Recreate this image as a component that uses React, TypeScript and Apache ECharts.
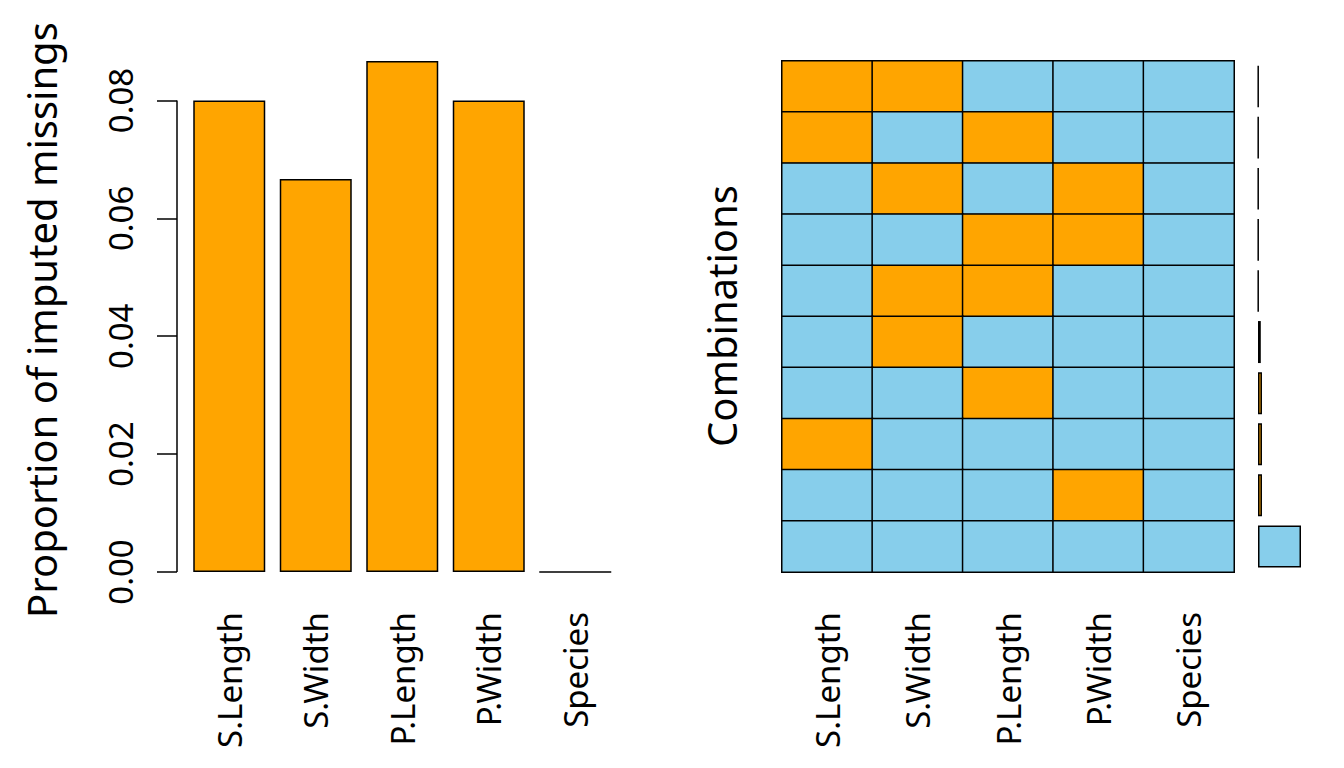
import React, { useEffect, useRef } from "react";
import * as echarts from "echarts";

const variables = ["S.Length", "S.Width", "P.Length", "P.Width", "Species"];
const missingProportion = [0.08, 0.0667, 0.0867, 0.08, 0];
const yTicks = [0, 0.02, 0.04, 0.06, 0.08];

// combination patterns, top row first (1 = imputed/missing)
const combinations = [
  [1, 1, 0, 0, 0],
  [1, 0, 1, 0, 0],
  [0, 1, 0, 1, 0],
  [0, 0, 1, 1, 0],
  [0, 1, 1, 0, 0],
  [0, 1, 0, 0, 0],
  [0, 0, 1, 0, 0],
  [1, 0, 0, 0, 0],
  [0, 0, 0, 1, 0],
  [0, 0, 0, 0, 0],
];
const combinationCounts = [1, 1, 1, 1, 1, 7, 10, 10, 10, 108];

const ORANGE = "#FFA500";
const SKY = "#87CEEB";
const FONT = "Noto Sans";

export default function App() {
  const ref = useRef<HTMLDivElement>(null);

  useEffect(() => {
    if (!ref.current) return;
    const chart = echarts.init(ref.current, undefined, { renderer: "svg" });
    const rowNames = combinations.map((_, i) => "r" + i);
    const heatData: number[][] = [];
    combinations.forEach((row, r) => row.forEach((v, c) => heatData.push([c, r, v])));

    const leftGridLeft = 186;
    const yAxisOffset = 9;

    const labelStyle = {
      fontSize: 33,
      color: "#000",
      fontFamily: FONT,
    };

    chart.setOption({
      animation: false,
      grid: [
        { left: leftGridLeft, right: 1344 - 618.5, top: 61, bottom: 196 },
        { left: 782, right: 1344 - 1234, top: 61, bottom: 196 },
        { left: 1258, right: 43, top: 61, bottom: 196 },
      ],
      xAxis: [
        {
          type: "category",
          gridIndex: 0,
          data: variables,
          axisLine: { show: false },
          axisTick: { show: false },
          axisLabel: { ...labelStyle, rotate: 90, margin: 40, interval: 0 },
        },
        {
          type: "category",
          gridIndex: 1,
          data: variables,
          axisLine: { show: false },
          axisTick: { show: false },
          axisLabel: { ...labelStyle, rotate: 90, margin: 40, interval: 0 },
        },
        {
          type: "value",
          gridIndex: 2,
          min: 0,
          max: "dataMax",
          show: false,
        },
      ],
      yAxis: [
        {
          type: "value",
          gridIndex: 0,
          min: 0,
          max: 0.0867,
          offset: yAxisOffset,
          splitLine: { show: false },
          axisLine: { show: false },
          axisTick: {
            show: true,
            length: 20,
            lineStyle: { color: "#000", width: 1.5 },
            customValues: yTicks,
          },
          axisLabel: {
            ...labelStyle,
            rotate: 90,
            margin: 40,
            customValues: yTicks,
            formatter: (v: number) => v.toFixed(2),
          },
        },
        {
          type: "category",
          gridIndex: 1,
          data: rowNames,
          inverse: true,
          show: false,
        },
        {
          type: "category",
          gridIndex: 2,
          data: rowNames,
          inverse: true,
          show: false,
        },
      ],
      visualMap: {
        type: "piecewise",
        show: false,
        seriesIndex: 1,
        dimension: 2,
        pieces: [
          { value: 0, color: SKY },
          { value: 1, color: ORANGE },
        ],
      },
      series: [
        {
          type: "bar",
          xAxisIndex: 0,
          yAxisIndex: 0,
          data: missingProportion,
          barWidth: 72,
          itemStyle: { color: ORANGE, borderColor: "#000", borderWidth: 1.5 },
        },
        {
          type: "heatmap",
          xAxisIndex: 1,
          yAxisIndex: 1,
          data: heatData,
          itemStyle: { borderColor: "#000", borderWidth: 1.5 },
        },
        {
          type: "bar",
          xAxisIndex: 2,
          yAxisIndex: 2,
          barWidth: 42,
          data: combinationCounts.map((c, i) => ({
            value: c,
            itemStyle: {
              color: combinations[i].some((v) => v === 1) ? ORANGE : SKY,
            },
          })),
          itemStyle: { borderColor: "#000", borderWidth: 1.5 },
        },
      ],
      graphic: [
        {
          type: "text",
          x: 41,
          y: 320,
          rotation: Math.PI / 2,
          style: {
            text: "Proportion of imputed missings",
            fontSize: 40,
            fontFamily: FONT,
            fill: "#000",
            align: "center",
            verticalAlign: "middle",
          },
        },
        {
          type: "text",
          x: 721,
          y: 316,
          rotation: Math.PI / 2,
          style: {
            text: "Combinations",
            fontSize: 40,
            fontFamily: FONT,
            fill: "#000",
            align: "center",
            verticalAlign: "middle",
          },
        },
      ],
    });

    const yTop = chart.convertToPixel({ yAxisIndex: 0 }, yTicks[yTicks.length - 1]) as number;
    const yBottom = chart.convertToPixel({ yAxisIndex: 0 }, yTicks[0]) as number;
    const axisX = leftGridLeft - yAxisOffset;
    chart.setOption({
      graphic: [
        {},
        {},
        {
          type: "line",
          shape: { x1: axisX, y1: yTop, x2: axisX, y2: yBottom },
          style: { stroke: "#000", lineWidth: 1.5 },
        },
      ],
    });

    return () => chart.dispose();
  }, []);

  return (
    <div
      ref={ref}
      style={{ position: "fixed", left: 0, top: 0, width: 1344, height: 768, background: "#fff" }}
    />
  );
}
